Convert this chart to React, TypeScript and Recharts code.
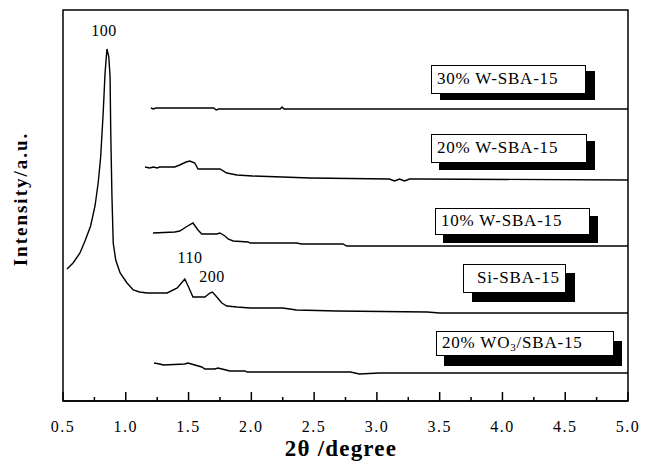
import React from "react";
import { LineChart, Line, XAxis, YAxis, ReferenceArea } from "recharts";

// [2θ (degree), intensity (a.u., curves stacked with offsets)]
const wSba30: [number, number][] = [
  [1.2, 293], [1.22, 292], [1.24, 293], [1.7, 293], [1.72, 291], [1.74, 292],
  [2.23, 292], [2.245, 294], [2.26, 292], [5.0, 292],
];
const wSba20: [number, number][] = [
  [1.153, 234], [1.19, 233], [1.22, 234], [1.25, 233], [1.27, 234], [1.39, 234],
  [1.43, 236], [1.48, 239], [1.51, 240], [1.55, 238], [1.575, 232], [1.75, 232],
  [1.805, 228], [1.885, 226], [2.01, 225], [2.47, 223], [3.1, 222], [3.14, 220],
  [3.18, 222], [3.22, 220], [3.26, 222], [3.34, 222], [5.0, 221],
];
const wSba10: [number, number][] = [
  [1.217, 168], [1.39, 169], [1.43, 170], [1.48, 174], [1.535, 178], [1.575, 171],
  [1.605, 167], [1.725, 167], [1.75, 168], [1.79, 165], [1.815, 162], [1.855, 160],
  [1.975, 159], [1.99, 158], [2.36, 158], [2.4, 157], [2.73, 157], [2.76, 155],
  [5.0, 155],
];
const siSba: [number, number][] = [
  [0.532, 132], [0.58, 138], [0.635, 148], [0.675, 160], [0.72, 175], [0.755, 195],
  [0.78, 218], [0.8, 244], [0.82, 288], [0.835, 328], [0.85, 352], [0.865, 344],
  [0.875, 324], [0.88, 271], [0.89, 204], [0.9, 158], [0.92, 141], [0.955, 128],
  [1.01, 118], [1.06, 111], [1.11, 109], [1.17, 108], [1.33, 108], [1.41, 113],
  [1.45, 119], [1.47, 122], [1.5, 114], [1.535, 104], [1.63, 104], [1.67, 108],
  [1.69, 109], [1.725, 104], [1.765, 98], [1.805, 95], [1.885, 94], [1.99, 93],
  [2.25, 93], [2.36, 91], [2.68, 90], [3.4, 89], [3.5, 88], [5.0, 88],
];
const wo3Sba20: [number, number][] = [
  [1.225, 38], [1.27, 37], [1.3, 36], [1.47, 37], [1.495, 38], [1.55, 36],
  [1.605, 34], [1.63, 32], [1.71, 32], [1.735, 33], [1.765, 32], [1.83, 30],
  [1.95, 30], [1.965, 29], [2.79, 29], [2.86, 27], [3.02, 28], [5.0, 28],
];

const xTicks = [0.5, 0.75, 1.0, 1.25, 1.5, 1.75, 2.0, 2.25, 2.5, 2.75, 3.0, 3.25, 3.5, 3.75, 4.0, 4.25, 4.5, 4.75, 5.0];

const series = [wSba30, wSba20, wSba10, siSba, wo3Sba20];

const toPoints = (s: [number, number][]) => s.map(([x, y]) => ({ x, y }));

const FONT = "Liberation Serif, Times New Roman, Times, serif";

// sample boxes with drop shadow, page pixel placement
const boxes = [
  { text: "30% W-SBA-15", left: 431, top: 65, w: 155, h: 29, pad: 5, sx: 9, sy: 6 },
  { text: "20% W-SBA-15", left: 431, top: 134, w: 156, h: 29, pad: 5, sx: 8, sy: 7 },
  { text: "10% W-SBA-15", left: 435, top: 208, w: 155, h: 27, pad: 5, sx: 8, sy: 8 },
  { text: "Si-SBA-15", left: 463, top: 264, w: 103, h: 29, pad: 13, sx: 9, sy: 9 },
  { text: "WO3", left: 436, top: 331, w: 178, h: 25, pad: 5, sx: 8, sy: 10 },
];

const Tick = (props: any) => {
  const { x, y, payload } = props;
  const v = payload.value as number;
  const major = Math.abs(v * 2 - Math.round(v * 2)) < 1e-6;
  return (
    <g>
      <line x1={x} x2={x} y1={y} y2={y - (major ? 9 : 4)} stroke="#000" strokeWidth={1.5} />
      {major && (
        <text x={x} y={y + 31} textAnchor="middle" style={{ fontFamily: FONT }} fontSize={16} letterSpacing={1.5} fill="#000">
          {v.toFixed(1)}
        </text>
      )}
    </g>
  );
};

export default function App() {
  return (
    <div style={{ position: "absolute", left: 0, top: 0, width: 647, height: 461, background: "#fff", fontFamily: FONT }}>
      <LineChart width={647} height={461} margin={{ top: 10, right: 19, left: 63, bottom: 0 }}>
        <XAxis
          type="number"
          dataKey="x"
          domain={[0.5, 5]}
          ticks={xTicks}
          interval={0}
          height={60}
          tickSize={0}
          tickMargin={0}
          tickLine={false}
          axisLine={{ stroke: "#000", strokeWidth: 1.5 }}
          tick={<Tick />}
        />
        <YAxis type="number" domain={[0, 391]} hide />
        <ReferenceArea x1={0.5} x2={5} y1={0} y2={391} fill="none" stroke="#000" strokeWidth={1.5} />
        {series.map((s, i) => (
          <Line
            key={i}
            data={toPoints(s)}
            dataKey="y"
            type="linear"
            dot={false}
            stroke="#000"
            strokeWidth={1.4}
            isAnimationActive={false}
          />
        ))}
      </LineChart>

      <svg width={647} height={461} style={{ position: "absolute", left: 0, top: 0, pointerEvents: "none", fontFamily: FONT }}>
        <text x={104} y={36} textAnchor="middle" fontSize={16} letterSpacing={0.5}>100</text>
        <text x={190} y={263} textAnchor="middle" fontSize={16} letterSpacing={0.5}>110</text>
        <text x={212} y={282} textAnchor="middle" fontSize={16} letterSpacing={0.5}>200</text>
        <text x={341} y={456} textAnchor="middle" fontSize={23} fontWeight="bold" letterSpacing={1.2}>
          2θ /degree
        </text>
        <text
          x={0}
          y={0}
          transform="translate(27,199) rotate(-90)"
          textAnchor="middle"
          fontSize={19}
          fontWeight="bold"
          letterSpacing={2}
        >
          Intensity/a.u.
        </text>
      </svg>

      {boxes.map((b) => (
        <div
          key={b.text}
          style={{
            position: "absolute",
            left: b.left,
            top: b.top,
            width: b.w,
            height: b.h,
            boxSizing: "border-box",
            border: "1.5px solid #000",
            background: "#fff",
            boxShadow: `${b.sx}px ${b.sy}px 0 #000`,
            paddingLeft: b.pad,
            fontSize: 17,
            letterSpacing: 0.8,
            lineHeight: `${b.h - 3}px`,
            whiteSpace: "nowrap",
          }}
        >
          {b.text === "WO3" ? (
            <>20% WO<span style={{ fontSize: 11, verticalAlign: -3 }}>3</span>/SBA-15</>
          ) : (
            b.text
          )}
        </div>
      ))}
    </div>
  );
}
